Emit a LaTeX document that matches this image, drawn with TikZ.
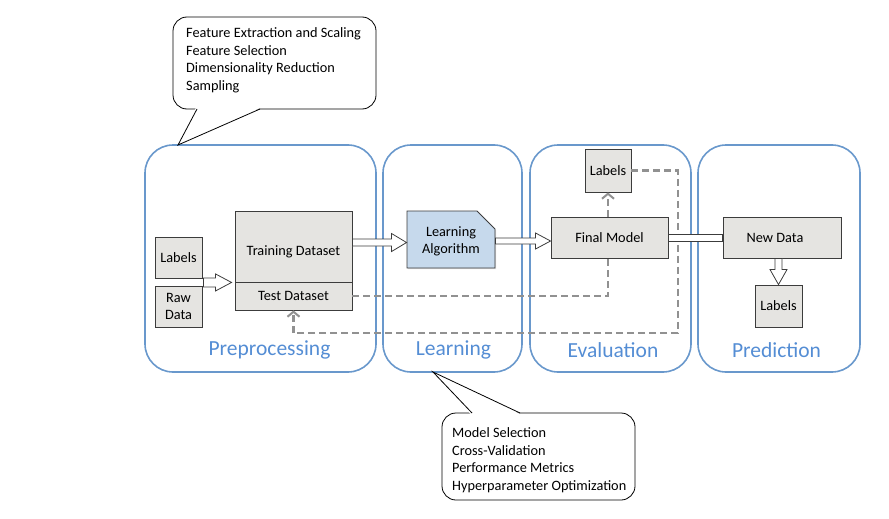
\documentclass[tikz,border=0pt]{standalone}
\usepackage{fontspec}
\setmainfont{Carlito}
\usetikzlibrary{arrows.meta,calc,shapes.misc,shadows}
\definecolor{panelblue}{RGB}{105,152,204}
\definecolor{titleblue}{RGB}{84,141,212}
\definecolor{boxgray}{RGB}{229,228,225}
\definecolor{boxline}{RGB}{60,60,60}
\definecolor{algblue}{RGB}{198,217,236}
\definecolor{dashgray}{RGB}{145,145,145}
\tikzset{
  panel/.style={draw=panelblue, line width=1.6pt, rounded corners=28pt, fill=none, inner sep=0pt},
  paneltitle/.style={text=titleblue, font=\fontsize{21.5}{24}\selectfont, inner sep=0pt},
  graybox/.style={draw=boxline, line width=0.9pt, fill=boxgray, font=\fontsize{14.3}{17}\selectfont,
    align=center, inner sep=0pt, drop shadow={shadow xshift=1.2pt, shadow yshift=-1.2pt, opacity=0.25}},
  algbox/.style={graybox, fill=algblue, chamfered rectangle, chamfered rectangle corners=north east,
    chamfered rectangle xsep=9pt, chamfered rectangle ysep=9pt},
  blockarr/.style={draw=boxline, line width=0.8pt, fill=white},
  dashline/.style={draw=dashgray, line width=2.2pt, dash pattern=on 7pt off 4pt},
  dashtip/.style={-{Straight Barb[length=5pt, width=12pt, line width=2pt]}},
  calloutbox/.style={draw=black, line width=0.8pt, rounded corners=14pt, fill=white, inner sep=0pt},
  callouttext/.style={font=\fontsize{14.3}{17.5}\selectfont, align=left, anchor=north west, inner sep=0pt},
}
\newcommand{\hblockarrow}[5]{%
  \draw[blockarr] let \p1=(#1), \p2=(#2) in
    (\x1,\y1+#3) -- (\x2-#5,\y1+#3) -- (\x2-#5,\y1+#4) -- (\x2,\y1) --
    (\x2-#5,\y1-#4) -- (\x2-#5,\y1-#3) -- (\x1,\y1-#3) -- cycle;}
\newcommand{\vblockarrow}[5]{%
  \draw[blockarr] let \p1=(#1), \p2=(#2) in
    (\x1+#3,\y1) -- (\x1+#3,\y2+#5) -- (\x1+#4,\y2+#5) -- (\x1,\y2) --
    (\x1-#4,\y2+#5) -- (\x1-#3,\y2+#5) -- (\x1-#3,\y1) -- cycle;}
\begin{document}
\begin{tikzpicture}[x=1pt, y=-1pt]
\useasboundingbox (0,0) rectangle (889,519);

% panels
\node[panel, minimum width=231pt, minimum height=227pt] (pPre) at (260.5,258.5) {};
\node[panel, minimum width=139pt, minimum height=227pt] (pLearn) at (452.5,258.5) {};
\node[panel, minimum width=161pt, minimum height=227pt] (pEval) at (610.5,258.5) {};
\node[panel, minimum width=162pt, minimum height=227pt] (pPred) at (779,258.5) {};
\node[paneltitle] (tPre) at (269.5,350) {Preprocessing};
\node[paneltitle] (tLearn) at (453.5,350) {Learning};
\node[paneltitle] (tEval) at (613,350) {Evaluation};
\node[paneltitle] (tPred) at (776.5,350) {Prediction};

% boxes
\node[graybox, minimum width=47pt, minimum height=41pt] (lab1) at (178.5,257.5) {Labels};
\node[graybox, minimum width=47pt, minimum height=41pt] (raw) at (178.5,306.5) {Raw\\Data};
\node[graybox, minimum width=117pt, minimum height=71pt] (tr) at (293.5,246.5) {\raisebox{-5pt}[0.7em][0.2em]{Training Dataset}};
\node[graybox, minimum width=117pt, minimum height=28pt] (te) at (293.5,296) {Test Dataset};
\node[algbox, minimum width=88pt, minimum height=57pt] (la) at (451,239.5) {\raisebox{-2pt}[0.7em][0.2em]{Learning}\\\raisebox{-2pt}[0.7em][0.2em]{Algorithm}};
\node[graybox, minimum width=117pt, minimum height=41pt] (fm) at (609.5,237.5) {Final Model};
\node[graybox, minimum width=46pt, minimum height=43pt] (le) at (608,170.5) {Labels};
\node[graybox, minimum width=118pt, minimum height=41pt] (nd) at (782,237.5) {\hspace*{-14pt}New Data};
\node[graybox, minimum width=47pt, minimum height=42pt] (lp) at (778.5,306) {Labels};

% dashed connectors
\coordinate (rc) at (678,333);
\draw[dashline] (te.east) -- (te.east -| le.south) -- (le.south |- fm.south);
\draw[dashline, dashtip] (le.south |- fm.north) -- (le.south);
\draw[dashline, dashtip] (le.east) -| (rc) -| (te.south);

% block arrows
\coordinate (a1s) at ($(lab1.south east)+(1,4)$);
\coordinate (a1e) at ($(tr.west)+(-3,0)$);
\hblockarrow{a1s}{a1e}{4.5pt}{8.5pt}{16pt}
\coordinate (a2s) at ($(tr.east)+(0,-4)$);
\hblockarrow{a2s}{la.west}{3.5pt}{9pt}{15pt}
\coordinate (a3s) at ($(la.east)+(0,1.5)$);
\hblockarrow{a3s}{fm.west}{3pt}{8pt}{15pt}
\draw[blockarr] ($(fm.east)+(0,-3.5)$) rectangle ($(nd.west)+(0,3.5)$);
\coordinate (a4s) at (lp.north |- nd.south);
\vblockarrow{a4s}{lp.north}{3.5pt}{8.5pt}{15pt}

% callouts
\node[calloutbox, minimum width=203pt, minimum height=92pt] (c1) at (274.5,63) {};
\fill[white] (196,107.5) -- (178,145) -- (261,107.5) -- cycle;
\draw[line width=0.8pt] (197,109) -- (178,145) -- (260,109);
\node[callouttext] (c1t) at (186,27.5) {Feature Extraction and Scaling\\Feature Selection\\Dimensionality Reduction\\Sampling};

\node[calloutbox, minimum width=193pt, minimum height=87pt] (c2) at (538.5,456.5) {};
\fill[white] (471,414.5) -- (433,372) -- (521,414.5) -- cycle;
\draw[line width=0.8pt] (472,413) -- (433,372) -- (520,413);
\node[callouttext] (c2t) at (452,427.5) {Model Selection\\Cross-Validation\\Performance Metrics\\Hyperparameter Optimization};
\end{tikzpicture}
\end{document}
